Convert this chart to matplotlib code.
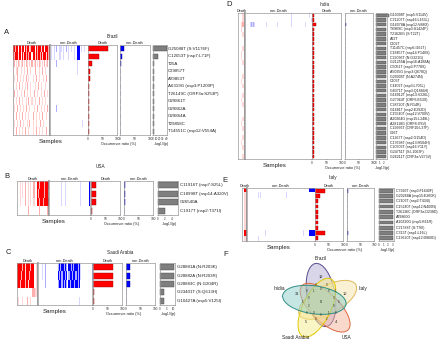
import numpy as np
import matplotlib
matplotlib.use('Agg')
import matplotlib.pyplot as plt
from matplotlib.colors import LinearSegmentedColormap
from matplotlib.patches import Ellipse

plt.rcParams['font.family'] = ['Liberation Sans', 'DejaVu Sans']

W, H = 440, 344

# ---------------- datos ----------------
# Brasil
brazil_mut = ['G25088T (S:V1176F)', 'C12053T (nsp7:L71F)', 'T25A', 'C29857T', 'A29853T',
              'A6319G (nsp3:P1200P)', 'T26149C (ORF3a:S253P)', 'G29861T', 'G29862A',
              'G29864A', 'T29858C', 'T14551C (nsp12:V554A)']
brazil_death = [69, 38, 13, 7, 6, 5, 5, 5, 5, 5, 5, 4]
brazil_nondeath = [13, 8, 3, 1.5, 1.5, 1.5, 1.5, 1.5, 1.5, 1.5, 1.5, 1.5]
brazil_logp = [41, 16, 4, 2.5, 2.5, 2.5, 2.5, 2.5, 2.5, 2.5, 2.5, 2.5]
brazil_death_map = [
    "##:## ##.## #:##.:### #:###.## ###:##",
    "#:###.## #.##:#:## ##.#:##:#.###.#:#",
    ".: . :. .: . :. . : .: . :. . : .: .",
    ".  .:   .  .  :  .   :   .  :  .   .",
    " .  :  .  .  : .   .  :  .   .  :   ",
    ".  .  :  .  . :  .   .  :  .   .    ",
    " :  .   .  :  .  .  :  .   .  :  .  ",
    ".  .  :  .   . :  .  .   :  .  .    ",
    " .  :  .  .  :  .   .  :   .  .  :  ",
    ".  :  .  :  .  .   :  .  .  :   .   ",
    " .  .  :  .   . :  .  .   :  .      ",
    ".  :  .  .  :  .   .  :  .  .   :   ",
]
brazil_nondeath_map = [
    " .  . :  .. .  : .  .  .  ## .  .    ",
    " .  .    .  .    .     .  ##         ",
    "      :                   .          ",
    "                          .          ",
    "", "", "", "",
    "      :                              ",
    "",
    "                              .      ",
    "",
]

# EEUU
usa_mut = ['C11916T (nsp7:S25L)', 'C18998T (nsp14:A320V)', 'G26540A', 'C1917T (nsp2:T371I)']
usa_death = [16, 16, 16, 4]
usa_nondeath = [2, 2, 2, 0]
usa_logp = [5.9, 5.9, 5.9, 2.2]
usa_death_map = [
    "   . .  :  . .  :  ##:####:####.",
    "   . .  :  . .  :  #:#####:###:.",
    "   .    :  . .  .  ##:###:#####.",
    "           :         :       :  ",
]
usa_nondeath_map = [
    "            .   .              .        #",
    "            .   .              .        #",
    "            .   .              .        #",
    "",
]

# Arabia Saudi
saudi_mut = ['G28881A (N:R203K)', 'G28882A (N:R203R)', 'G28883C (N:G204R)',
             'G23401T (S:Q613H)', 'G10427A (nsp5:V125I)']
saudi_death = [70, 70, 70, 3, 3]
saudi_nondeath = [14, 14, 14, 0, 0]
saudi_logp = [10.5, 10.5, 10.5, 3, 3]
saudi_death_map = [
    "#####:##.####:###  . ",
    "####:###.###:####  . ",
    "###:####:##.#####  . ",
    "               :::.. ",
    " .   .    :  .       ",
]
saudi_nondeath_map = [
    "   .  :          :#:##:#: ##:#:###:#.         :",
    "   .  :          #:#:##:# :##:##:#:#.         :",
    "      :          :##:#:#: #:###:##:#          .",
    "",
    "                                   .          ",
]

# India
india_mut = ['G10398T (nsp5:V114V)', 'C21207T (nsp16:L163L)', 'G16078A (nsp12:V880I)',
             'T6969C (nsp3:S1424P)', 'T21626G (S:T22T)', 'A22T', 'C202T',
             'T11457C (nsp6:I162T)', 'C18457T (nsp14:P140S)', 'C29036T (N:G321G)',
             'G21255A (nsp16:A188A)', 'C5051T (nsp3:P778S)', 'A5035G (nsp3:Q678Q)',
             'G29305T (N:A274N)', 'C203T', 'C4402T (nsp3:L705L)', 'G8371T (nsp3:Q1884H)',
             'G16912T (nsp13:V226L)', 'G27364T (ORF6:E53X)', 'C28720T (N:R14R)',
             'G1681T (nsp2:E292D)', 'C15540T (nsp12:V700V)', 'A20264G (nsp15:L248L)',
             'A28118G (ORF8:I76V)', 'C29666T (ORF10:L37F)', 'C56T', 'C1267T (nsp2:G154D)',
             'C17698T (nsp13:H504H)', 'C20703T (nsp16:Y11Y)', 'G24751T (S:L1063F)',
             'G26211T (ORF3a:V273V)']
india_death = [6, 6, 13] + [6] * 28
india_nondeath = [0, 0, 2] + [0] * 28
india_logp = [3.6] + [2.7] * 30
india_death_map = ["   .", "   .", "  .:", "  .", "   .", "    .", "    .", "   .",
                   "  .", "  .", "   .", "    .", "    .", "   .", "  .", "   .",
                   "    .", "   .", "  .", "   .", "    .", "    .", "   .", "  .",
                   "   .", "    .", "   .", "  .", "   .", "    .", "   ."]
india_nondeath_map = [
    "                                             .                .",
    "                                             .                  .",
    "     .:.:.          .          .             .            .",
] + [""] * 28

# Italia
italy_mut = ['C7926T (nsp3:F1640F)', 'G20268A (nsp15:E260K)', 'C2106T (nsp2:T434I)',
             'C15240T (nsp12:N400N)', 'T26136C (ORF3a:D238D)', 'A29860G',
             'A10230G (nsp5:K61R)', 'C21788T (S:T76I)', 'C313T (nsp1:L16L)',
             'C13620T (nsp12:D860D)']
italy_death = [37, 17, 11, 11, 11, 11, 11, 11, 36, 11]
italy_nondeath = [3, 0, 0, 0, 0, 0, 0, 0, 3, 0]
italy_logp = [3.15, 3.1, 3.1, 3.1, 3.1, 3.1, 3.1, 3.1, 3.1, 3.1]
italy_death_map = [" #", " .", " .", " .", " .", " .", " .", " .", " #", " ."]
italy_nondeath_map = [
    "                                                             ######",
    "           . .                        .",
    "", "", "", "", "", "",
    "                  .                                    .     ######",
    "           .",
]

# Venn
venn_names = ['Brazil', 'Italy', 'USA', 'Saudi Arabia', 'Inidia']
venn_unique = [12, 10, 4, 5, 31]
venn_center = 0
venn_small = [0, 1, 0, 2, 0, 0, 1, 0, 3, 0, 0, 0, 1, 0, 0, 2, 0, 0, 1, 0]

# ---------------- figura ----------------
fig = plt.figure(figsize=(W / 100, H / 100), dpi=100)
ax0 = fig.add_axes([0, 0, 1, 1])
ax0.set_xlim(0, W)
ax0.set_ylim(H, 0)
ax0.axis('off')

cmap_r = LinearSegmentedColormap.from_list('rojo', ['#ffffff', '#ff0000'])
cmap_b = LinearSegmentedColormap.from_list('azul', ['#ffffff', '#0000ff'])
niveles = {' ': 0.0, '.': 0.16, ':': 0.32, '#': 1.0}


def ejes(x0, x1, y0, y1):
    return fig.add_axes([x0 / W, 1 - y1 / H, (x1 - x0) / W, (y1 - y0) / H])


def mapa(filas):
    ancho = max(len(f) for f in filas)
    return np.array([[niveles[c] for c in f.ljust(ancho)] for f in filas])


def marco(ax, color='#999999', lw=0.5):
    for s in ax.spines.values():
        s.set_color(color)
        s.set_linewidth(lw)


def txt(x, y, s, fs=3.0, **kw):
    ax0.text(x, y, s, fontsize=fs, ha=kw.pop('ha', 'center'), va=kw.pop('va', 'center'),
             color=kw.pop('color', '#222222'), **kw)


def panel(L, name, mut, dmap, nmap, dpct, npct, logp, loglim, logticks, labfs=3.2):
    y0, y1 = L['y']
    n = len(mut)
    # heatmaps
    for (x0, x1), m, cm in [(L['hd'], dmap, cmap_r), (L['hn'], nmap, cmap_b)]:
        ax = ejes(x0, x1, y0, y1)
        arr = mapa(m)
        ax.imshow(arr, cmap=cm, vmin=0, vmax=1, aspect='auto', interpolation='nearest')
        ax.set_xticks([])
        ax.set_yticks([])
        marco(ax)
        if cm is cmap_r:
            ax.spines['right'].set_linewidth(1.2)
            ax.spines['right'].set_color('#888888')
    # barras de ocurrencia
    for (x0, x1), vals, col, ec in [(L['bd'], dpct, '#ff0000', '#990000'),
                                    (L['bn'], npct, '#0000ff', '#000088')]:
        ax = ejes(x0, x1, y0, y1)
        ax.barh(np.arange(n), vals, height=0.72, color=col, edgecolor=ec, linewidth=0.3)
        ax.set_xlim(0, 100)
        ax.set_ylim(n - 0.5, -0.5)
        ax.set_yticks([])
        ax.set_xticks([0, 50, 100])
        ax.tick_params(axis='x', labelsize=2.3, length=1, width=0.3, pad=0.6, colors='#333333')
        marco(ax)
    # -log10(p)
    x0, x1 = L['lp']
    ax = ejes(x0, x1, y0, y1)
    ax.barh(np.arange(n), logp, height=0.72, color='#7f7f7f', edgecolor='#444444',
            linewidth=0.3, clip_on=False)
    ax.set_xlim(0, loglim)
    ax.set_ylim(n - 0.5, -0.5)
    ax.set_yticks([])
    ax.set_xticks(logticks)
    ax.tick_params(axis='x', labelsize=2.2, length=1, width=0.3, pad=0.6, colors='#333333')
    marco(ax)
    # etiquetas de mutaciones
    h = (y1 - y0) / n
    for i, m in enumerate(mut):
        txt(L['lab'], y0 + h * (i + 0.5), m, fs=labfs, ha='left')
    # textos
    hd, hn, bd, bn, lp = L['hd'], L['hn'], L['bd'], L['bn'], L['lp']
    txt(sum(hd) / 2, y0 - 2.2, 'Death', fs=2.8)
    txt(sum(hn) / 2, y0 - 2.2, 'non-Death', fs=2.8)
    txt(sum(bd) / 2, y0 - 2.2, 'Death', fs=2.8)
    txt(sum(bn) / 2, y0 - 2.2, 'non-Death', fs=2.8)
    txt(L['title'][0], L['title'][1], name, fs=3.3)
    txt(L['letter'][0], L['letter'][1], L['ltr'], fs=5.5, ha='left')
    txt((hd[0] + hn[1]) / 2, y1 + 6.5, 'Samples', fs=4.4)
    txt((bd[0] + bn[1]) / 2, y1 + 9.5, 'Occurrence ratio (%)', fs=2.8)
    txt(sum(lp) / 2 + 1, y1 + 9.5, '-log$_{10}$(p)', fs=2.8)


A = dict(hd=(13, 50), hn=(50, 88), bd=(88, 117), bn=(120, 150), lp=(153, 167), y=(45, 135),
         lab=168, title=(112, 36), letter=(4, 33), ltr='A')
B = dict(hd=(17, 49), hn=(49, 90), bd=(91, 120), bn=(124, 153), lp=(158, 178), y=(181, 215),
         lab=180, title=(100, 167), letter=(4, 176), ltr='B')
Cc = dict(hd=(17, 38), hn=(38, 92), bd=(93, 122), bn=(126, 155), lp=(160, 175), y=(263, 305),
          lab=177, title=(120, 252), letter=(6, 253), ltr='C')
D = dict(hd=(238, 245), hn=(245, 312), bd=(312, 341), bn=(345, 373), lp=(376, 387), y=(13, 159),
         lab=390, title=(325, 5), letter=(226, 5), ltr='D')
E = dict(hd=(242, 247), hn=(247, 315), bd=(315, 343), bn=(347, 374), lp=(379, 394), y=(188, 241),
         lab=396, title=(333, 178), letter=(222, 181), ltr='E')

panel(A, 'Brazil', brazil_mut, brazil_death_map, brazil_nondeath_map, brazil_death,
      brazil_nondeath, brazil_logp, 42, [0, 10, 20, 30, 40])
panel(B, 'USA', usa_mut, usa_death_map, usa_nondeath_map, usa_death, usa_nondeath,
      usa_logp, 6, [0, 2, 4])
panel(Cc, 'Saudi Arabia', saudi_mut, saudi_death_map, saudi_nondeath_map, saudi_death,
      saudi_nondeath, saudi_logp, 11, [0, 5, 10])
panel(D, 'India', india_mut, india_death_map, india_nondeath_map, india_death,
      india_nondeath, india_logp, 3, [0, 1, 2], labfs=2.6)
panel(E, 'Italy', italy_mut, italy_death_map, italy_nondeath_map, italy_death,
      italy_nondeath, italy_logp, 3.3, [0, 1, 2, 3], labfs=2.6)

# ---------------- F: Venn ----------------
txt(223, 254, 'F', fs=5.5, ha='left')
cx, cy = 321, 302
angulos = [90, 18, -54, -126, 162]
colores = [('#b7aed6', '#5a4a8f'), ('#f7e2a8', '#e0b85a'), ('#f5b49a', '#e0673d'),
           ('#f7ec8a', '#e2c800'), ('#8fcfc8', '#2e8f87')]
for phi, (fc, ec) in zip(angulos, colores):
    r = np.radians(phi)
    ex, ey = cx + 7 * np.cos(r), cy - 7 * np.sin(r)
    ax0.add_patch(Ellipse((ex, ey), 64, 28, angle=-(phi + 10), facecolor=fc, alpha=0.5,
                          edgecolor='none'))
    ax0.add_patch(Ellipse((ex, ey), 64, 28, angle=-(phi + 10), facecolor='none',
                          edgecolor=ec, linewidth=0.7))
for phi, nom, v in zip(angulos, venn_names, venn_unique):
    r = np.radians(phi)
    txt(cx + 44 * np.cos(r), cy - 44 * np.sin(r), nom, fs=3.4)
    txt(cx + 25 * np.cos(r), cy - 25 * np.sin(r), str(v), fs=2.8)
txt(cx, cy, str(venn_center), fs=2.8)
for k, v in enumerate(venn_small):
    rad = 13 if k < 10 else 18
    a = np.radians(90 + 36 * k + (18 if k >= 10 else 0))
    txt(cx + rad * np.cos(a), cy - rad * np.sin(a), str(v), fs=2.0)

fig.savefig('out.png', dpi=100)
